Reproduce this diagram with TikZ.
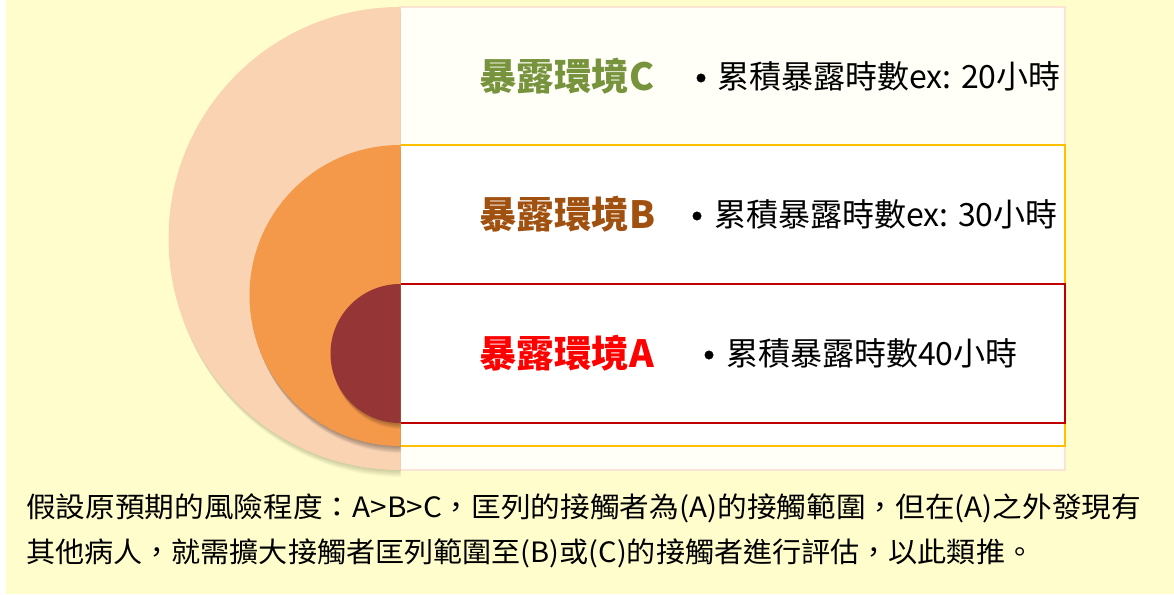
\documentclass[tikz,border=0pt]{standalone}
\usepackage{fontspec}
\setmainfont{Noto Sans CJK TC}
\usepackage{graphicx}
\definecolor{bgyellow}{HTML}{FFFDCC}
\definecolor{peach}{HTML}{FAD3B3}
\definecolor{orangedisc}{HTML}{F4984A}
\definecolor{darkred}{HTML}{963535}
\definecolor{cfill}{HTML}{FFFFF8}
\definecolor{cborder}{HTML}{FBE4D6}
\definecolor{bborder}{HTML}{FFC000}
\definecolor{aborder}{HTML}{C00000}
\definecolor{ctitle}{HTML}{77933C}
\definecolor{btitle}{HTML}{A0500F}
\definecolor{atitle}{HTML}{FF0000}
\definecolor{shadowcol}{HTML}{5A5A3A}
\tikzset{
  band/.style={anchor=north west, inner sep=0pt, outer sep=0pt, line width=1.5pt, minimum width=665pt},
  titletext/.style={anchor=west, inner sep=0pt, font=\fontsize{37.5pt}{42pt}\selectfont\bfseries},
  desctext/.style={anchor=west, inner sep=0pt, font=\fontsize{32pt}{36pt}\selectfont},
  bulletmark/.style={circle, fill=black, draw=black, inner sep=0pt, minimum size=8.5pt},
  bodytext/.style={anchor=west, inner sep=0pt, font=\fontsize{28pt}{34pt}\selectfont}
}
\begin{document}
\begin{tikzpicture}[x=1pt,y=-1pt]
\useasboundingbox (0,0) rectangle (1174,594);
\fill[bgyellow] (0,0) rectangle (1174,594);
\fill[white] (0,0) rectangle (6,594);

% rectangles (bands)
\node[band, draw=cborder, fill=cfill, minimum height=463pt] (rectC) at (400,7) {};
\node[band, draw=bborder, fill=white, minimum height=301pt] (rectB) at (400,145) {};
\node[band, draw=aborder, fill=white, minimum height=139pt] (rectA) at (400,284) {};

% half discs with soft shadows
\begin{scope}
\clip (0,0) rectangle (400.5,594);
\foreach \k in {1,...,7}{
  \fill[shadowcol, opacity=0.045] (400+0.4*\k,238.5+\k) circle[radius=231.5];
}
\fill[peach] (400,238.5) circle[radius=231.5];
\foreach \k in {1,...,7}{
  \fill[black, opacity=0.05] (400+0.4*\k,295.5+\k) circle[radius=150.5];
}
\fill[orangedisc] (400,295.5) circle[radius=150.5];
\foreach \k in {1,...,6}{
  \fill[black, opacity=0.05] (400+0.4*\k,353.5+\k) circle[radius=69.5];
}
\fill[darkred] (400,353.5) circle[radius=69.5];
\end{scope}

% texts C
\node[titletext, text=ctitle] (tC) at (479,76) {暴露環境C};
\node[bulletmark] (bC) at (701,78) {};
\node[desctext] (dC) at (717,76) {累積暴露時數ex: 20小時};
% texts B
\node[titletext, text=btitle] (tB) at (479,214) {暴露環境B};
\node[bulletmark] (bB) at (697,216) {};
\node[desctext] (dB) at (714,214) {累積暴露時數ex: 30小時};
% texts A
\node[titletext, text=atitle] (tA) at (479,353) {暴露環境A};
\node[bulletmark] (bA) at (709,355) {};
\node[desctext] (dA) at (726,353) {累積暴露時數40小時};

% bottom text
\node[bodytext] (line1) at (26,508) {\resizebox{1115pt}{\height}{\fontsize{28pt}{34pt}\selectfont 假設原預期的風險程度：A>B>C，匡列的接觸者為(A)的接觸範圍，但在(A)之外發現有}};
\node[bodytext] (line2) at (26,553) {\resizebox{1008pt}{\height}{\fontsize{28pt}{34pt}\selectfont 其他病人，就需擴大接觸者匡列範圍至(B)或(C)的接觸者進行評估，以此類推。}};
\end{tikzpicture}
\end{document}
